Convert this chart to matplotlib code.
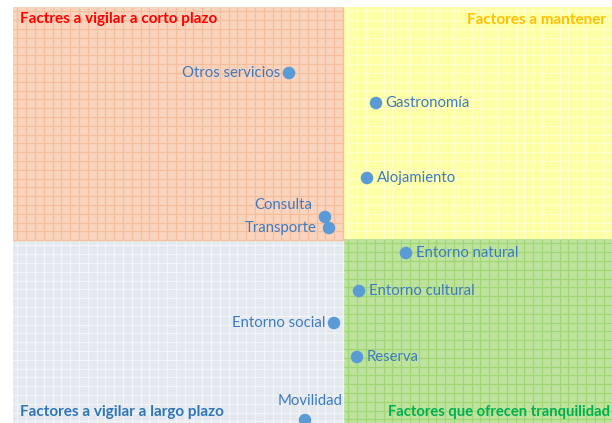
import matplotlib
matplotlib.use("Agg")
import matplotlib.pyplot as plt
from matplotlib.patches import Rectangle
from matplotlib.collections import LineCollection
import numpy as np

plt.rcParams['font.family'] = ['Lato', 'DejaVu Sans']

# ---- data ----
factors = ["Otros servicios", "Gastronomía", "Alojamiento", "Consulta", "Transporte",
           "Entorno natural", "Entorno cultural", "Entorno social", "Reserva", "Movilidad"]
x_vals = [2.76, 3.63, 3.54, 3.12, 3.16, 3.93, 3.46, 3.21, 3.44, 2.92]
y_vals = [3.50, 3.20, 2.45, 2.06, 1.95, 1.70, 1.32, 1.00, 0.66, 0.03]
label_side = ["left", "right", "right", "left-up", "left", "right", "right", "left", "right", "up"]

quadrant_titles = ["Factres a vigilar a corto plazo", "Factores a mantener",
                   "Factores a vigilar a largo plazo", "Factores que ofrecen tranquilidad"]

x_split, y_split = 3.31, 1.82
x_min, x_max = 0.0, 5.99
y_min, y_max = 0.0, 4.16

fig = plt.figure(figsize=(6.12, 4.23), dpi=100)
ax = fig.add_axes([13 / 612, 0, 599 / 612, 416 / 423])
ax.set_xlim(x_min, x_max)
ax.set_ylim(y_min, y_max)
ax.axis('off')

quads = [
    # (x0, x1, y0, y1, base, grid)
    (x_min, x_split, y_split, y_max, '#FAD4BE', '#F6BE9C'),
    (x_split, x_max, y_split + 0.02, y_max, '#FFFFA3', '#FFFFCF'),
    (x_min, x_split, y_min, y_split, '#E4E9F0', '#F2F4F8'),
    (x_split, x_max, y_min, y_split + 0.02, '#BDE39F', '#A2D672'),
]
step = 0.088
for x0, x1, y0, y1, base, grid in quads:
    ax.add_patch(Rectangle((x0, y0), x1 - x0, y1 - y0, facecolor=base, edgecolor='none', zorder=0))
    segs = []
    for gx in np.arange(x0 + step / 2, x1, step):
        segs.append([(gx, y0), (gx, y1)])
    for gy in np.arange(y1 - step / 2, y0, -step):
        segs.append([(x0, gy), (x1, gy)])
    ax.add_collection(LineCollection(segs, colors=grid, linewidths=0.9, zorder=0.5))

ax.scatter(x_vals, y_vals, s=82, color='#5B9BD5', zorder=3, clip_on=True, edgecolors='none')

label_color = '#3D7BC0'
for name, x, y, side in zip(factors, x_vals, y_vals, label_side):
    if side == "left":
        off, ha, va = (-6, 0), 'right', 'center'
    elif side == "right":
        off, ha, va = (7, 0), 'left', 'center'
    elif side == "left-up":
        off, ha, va = (-9, 9), 'right', 'center'
    else:
        off, ha, va = (4, 14), 'center', 'center'
    if name == "Transporte":
        off = (-9, 0)
    ax.annotate(name, (x, y), xytext=off, textcoords='offset points', ha=ha, va=va,
                fontsize=10.7, color=label_color, zorder=4)

ax.text(0.07, 4.04, quadrant_titles[0], color='#FF0000', fontsize=11, fontweight='bold',
        ha='left', va='center')
ax.text(5.93, 4.03, quadrant_titles[1], color='#FFC000', fontsize=11, fontweight='bold',
        ha='right', va='center')
ax.text(0.07, 0.11, quadrant_titles[2], color='#2E75B6', fontsize=11, fontweight='bold',
        ha='left', va='center')
ax.text(5.97, 0.11, quadrant_titles[3], color='#00B050', fontsize=10.6, fontweight='bold',
        ha='right', va='center')

fig.savefig("out.png", dpi=100)
